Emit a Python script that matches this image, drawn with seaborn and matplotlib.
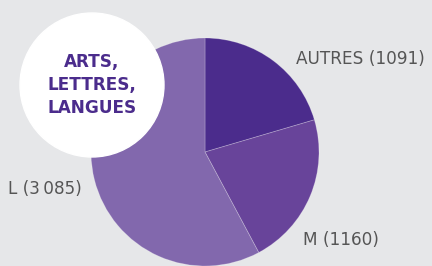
import matplotlib
matplotlib.use('Agg')
import matplotlib.pyplot as plt
import seaborn as sns

# data
categories = ['AUTRES', 'M', 'L']
counts = [1091, 1160, 3085]
colors = ['#4b2c8c', '#68449a', '#8268ad']
title_lines = ['ARTS,', 'LETTRES,', 'LANGUES']

sns.set_style('white')
plt.rcParams['font.family'] = ['DejaVu Sans']

fig = plt.figure(figsize=(4.32, 2.66), dpi=100)
fig.patch.set_facecolor('#e6e7e9')
ax = fig.add_axes([0, 0, 1, 1])
ax.set_facecolor('#e6e7e9')

# pie in pixel coords (y up), clockwise from top
ax.pie(counts, colors=colors, startangle=90, counterclock=False,
       center=(205, 114), radius=114,
       wedgeprops=dict(edgecolor=(1, 1, 1, 0.25), linewidth=0.6))

ax.set_xlim(0, 432)
ax.set_ylim(0, 266)
ax.set_aspect('equal')
ax.axis('off')

# labels
lab_pos = [(296, 207), (303, 26), (8, 77)]
for cat, n, (x, y) in zip(categories, counts, lab_pos):
    num = f'{n:,}'.replace(',', '\u2009') if n > 3000 else str(n)
    ax.text(x, y, f'{cat} ({num})', ha='left', va='center',
            fontsize=12.2, color='#555555')

# white circle with title
circ = plt.Circle((92, 181), 72, color='white', zorder=5)
ax.add_patch(circ)
ax.text(92, 181, '\n'.join(title_lines), ha='center', va='center',
        fontsize=12.2, fontweight='bold', color='#4b2c8c',
        linespacing=1.35, zorder=6)

fig.savefig('out.png', dpi=100, facecolor=fig.get_facecolor())
